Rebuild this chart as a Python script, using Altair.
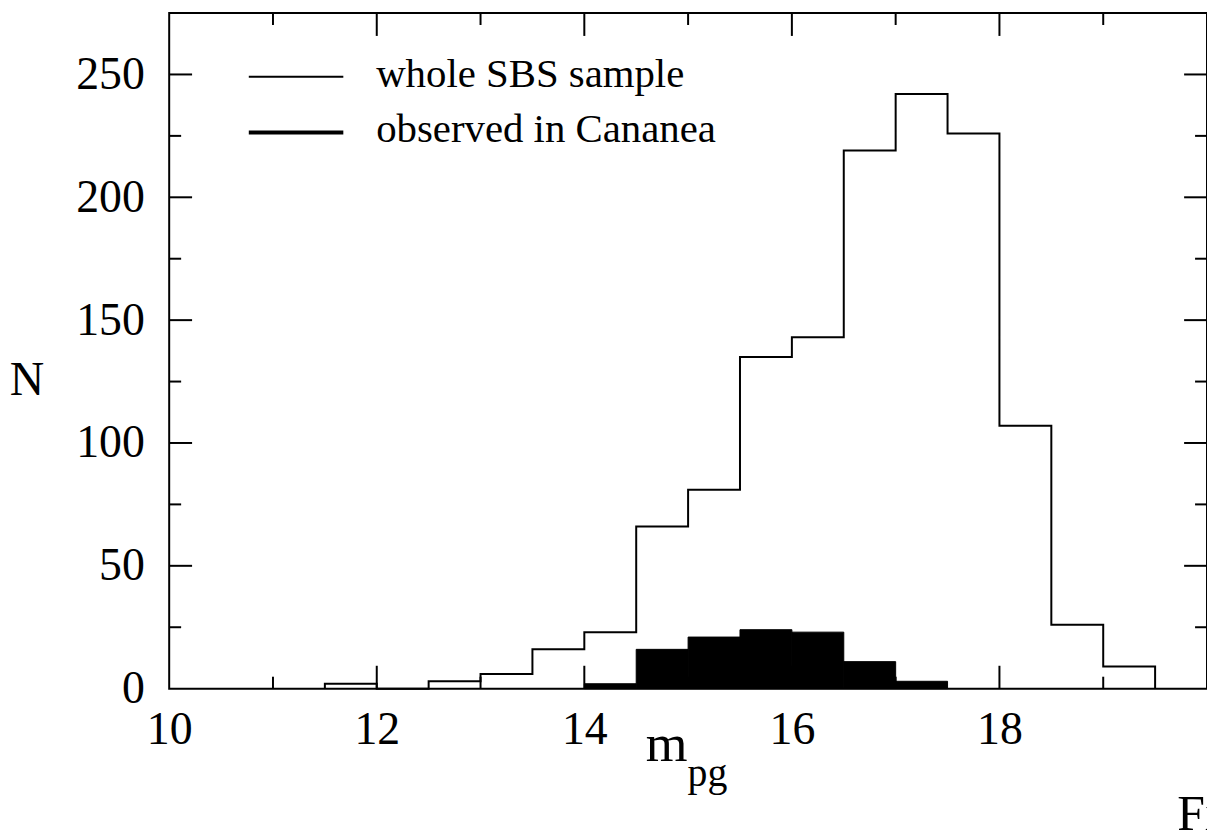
import altair as alt
import pandas as pd

# ---- data ----
bin_width = 0.5
whole_bin_start = [11.5, 12.0, 12.5, 13.0, 13.5, 14.0, 14.5, 15.0, 15.5, 16.0,
                   16.5, 17.0, 17.5, 18.0, 18.5, 19.0]
whole_counts = [2, 0, 3, 6, 16, 23, 66, 81, 135, 143, 219, 242, 226, 107, 26, 9]
obs_bin_start = [14.0, 14.5, 15.0, 15.5, 16.0, 16.5, 17.0]
obs_counts = [2, 16, 21, 24, 23, 11, 3]

x_labels = [10, 12, 14, 16, 18]
y_labels = [0, 50, 100, 150, 200, 250]
x_major_ticks = [12, 14, 16, 18]
x_minor_ticks = [11, 13, 15, 17, 19]
y_major_ticks = [50, 100, 150, 200, 250]
y_minor_ticks = [25, 75, 125, 175, 225]

legend_labels = ["whole SBS sample", "observed in Cananea"]
x_title_main = "m"
x_title_sub = "pg"
y_title = "N"
fig_label = "Fi"

FONT = "Liberation Serif"
W, H = 1043, 679
LABEL_SIZE = 46

xs = alt.Scale(domain=[10, 20], nice=False, zero=False)
ys = alt.Scale(domain=[0, 275], nice=False, zero=False)
xaxis = alt.Axis(values=x_labels, title=None, labelPadding=19, labelFlush=False,
                 labelOverlap=False, ticks=False, domain=False, grid=False,
                 labelFont=FONT, labelFontSize=LABEL_SIZE, labelColor="black")
yaxis = alt.Axis(values=y_labels, title=None, labelPadding=25, labelOverlap=False,
                 ticks=False, domain=False, grid=False,
                 labelFont=FONT, labelFontSize=LABEL_SIZE, labelColor="black")

# step outline of the whole sample histogram
rows = [(whole_bin_start[0], 0)]
for s, c in zip(whole_bin_start, whole_counts):
    rows.append((s, c))
    rows.append((s + bin_width, c))
rows.append((whole_bin_start[-1] + bin_width, 0))
step_df = pd.DataFrame({"m": [r[0] for r in rows], "n": [r[1] for r in rows],
                        "i": list(range(len(rows)))})

obs_df = pd.DataFrame({"start": obs_bin_start,
                       "end": [s + bin_width for s in obs_bin_start],
                       "n": obs_counts})

obs_bars = alt.Chart(obs_df).mark_rect(color="black", stroke="black", strokeWidth=1).encode(
    x=alt.X("start:Q", scale=xs, axis=xaxis),
    x2="end:Q",
    y=alt.Y("n:Q", scale=ys, axis=yaxis),
    y2=alt.datum(0),
)

whole_line = alt.Chart(step_df).mark_line(color="black", strokeWidth=2).encode(
    x=alt.X("m:Q", scale=xs, axis=xaxis),
    y=alt.Y("n:Q", scale=ys, axis=yaxis),
    order="i:Q",
)

def xticks(vals, length):
    df = pd.DataFrame({"t": vals})
    bottom = alt.Chart(df).mark_rule(color="black", strokeWidth=2).encode(
        x=alt.X("t:Q", scale=xs, axis=xaxis), y=alt.value(H), y2=alt.value(H - length))
    top = alt.Chart(df).mark_rule(color="black", strokeWidth=2).encode(
        x=alt.X("t:Q", scale=xs, axis=xaxis), y=alt.value(0), y2=alt.value(length))
    return [bottom, top]

def yticks(vals, length):
    df = pd.DataFrame({"t": vals})
    left = alt.Chart(df).mark_rule(color="black", strokeWidth=2).encode(
        y=alt.Y("t:Q", scale=ys, axis=yaxis), x=alt.value(0), x2=alt.value(length))
    right = alt.Chart(df).mark_rule(color="black", strokeWidth=2).encode(
        y=alt.Y("t:Q", scale=ys, axis=yaxis), x=alt.value(W), x2=alt.value(W - length))
    return [left, right]

tick_layers = (xticks(x_major_ticks, 23) + xticks(x_minor_ticks, 12)
               + yticks(y_major_ticks, 23) + yticks(y_minor_ticks, 12))

leg_df1 = pd.DataFrame({"label": [legend_labels[0]]})
leg_df2 = pd.DataFrame({"label": [legend_labels[1]]})
leg_line1 = alt.Chart(leg_df1).mark_rule(color="black", strokeWidth=2).encode(
    x=alt.value(80), x2=alt.value(175), y=alt.value(64))
leg_line2 = alt.Chart(leg_df2).mark_rule(color="black", strokeWidth=4).encode(
    x=alt.value(80), x2=alt.value(175), y=alt.value(120))
leg_text1 = alt.Chart(leg_df1).mark_text(align="left", baseline="alphabetic", font=FONT,
                                         fontSize=41, color="black").encode(
    x=alt.value(208), y=alt.value(74), text="label:N")
leg_text2 = alt.Chart(leg_df2).mark_text(align="left", baseline="alphabetic", font=FONT,
                                         fontSize=41, color="black").encode(
    x=alt.value(208), y=alt.value(130), text="label:N")

def label(txt, x, y, size, align="left"):
    return alt.Chart(pd.DataFrame({"t": [txt]})).mark_text(
        align=align, baseline="alphabetic", font=FONT, fontSize=size, color="black"
    ).encode(x=alt.value(x), y=alt.value(y), text="t:N")

titles = [
    label(x_title_main, 500, 752, 54, "center"),
    label(x_title_sub, 521, 777, 40),
    label(y_title, -143, 384, 48, "center"),
    label(fig_label, 1013, 821, 50),
]

chart = alt.layer(
    obs_bars, whole_line, *tick_layers,
    leg_line1, leg_line2, leg_text1, leg_text2, *titles
).properties(
    width=W, height=H,
    autosize=alt.AutoSizeParams(type="none"),
    padding={"left": 162, "top": 3, "right": 0, "bottom": 142},
).configure_view(
    stroke="black", strokeWidth=2
).configure_axis(
    domain=False, ticks=False, tickSize=0, grid=False,
    labelFont=FONT, labelFontSize=LABEL_SIZE, labelColor="black",
)

chart.save("out.html", embed_options={"renderer": "svg", "actions": False})
